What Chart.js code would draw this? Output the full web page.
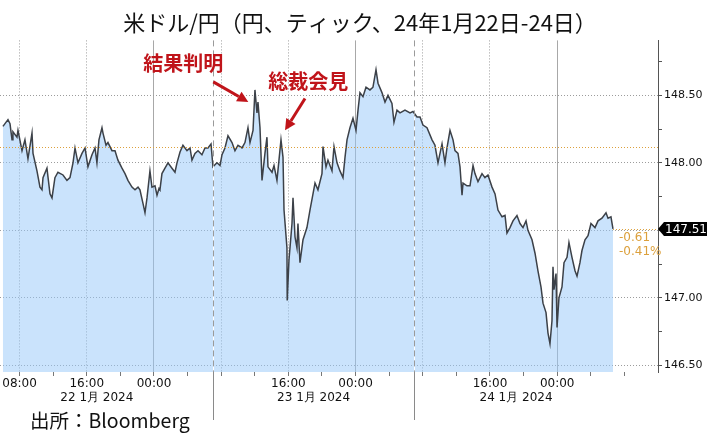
<!DOCTYPE html>
<html lang="ja">
<head>
<meta charset="UTF-8">
<title>米ドル/円（円、ティック、24年1月22日-24日）</title>
<script src="https://cdn.jsdelivr.net/npm/chart.js"></script>
<style>
  * { margin: 0; padding: 0; box-sizing: border-box; }
  body { background: #fff; width: 720px; height: 444px; overflow: hidden; }
  #wrap { position: relative; width: 720px; height: 444px; }
  #source {
    position: absolute; left: 30px; top: 408px;
    font-family: "Noto Sans CJK JP", sans-serif; font-size: 19.5px; line-height: 24px; color: #111;
  }
</style>
</head>
<body>
<div id="wrap">
  <canvas id="chart" width="720" height="444"></canvas>
  <div id="source">出所：Bloomberg</div>
</div>
<script>
// hours counted from 22 Jan 2024 00:00 (Tokyo)
const hours = [
  6.02, 6.62, 6.86, 7.10, 7.21, 7.69, 7.81, 8.29, 8.64, 9.00,
  9.48, 9.60, 10.07, 10.43, 10.67, 10.79, 11.26, 11.62, 11.86, 12.21,
  12.57, 13.17, 13.64, 14.00, 14.36, 14.60, 14.95, 15.43, 15.79, 16.14,
  16.62, 16.98, 17.21, 17.45, 17.81, 17.93, 18.29, 18.52, 19.00, 19.36,
  19.71, 20.19, 20.55, 20.90, 21.38, 21.74, 22.10, 22.33, 22.69, 22.93,
  23.17, 23.52, 23.76, 24.12, 24.36, 24.60, 24.71, 24.95, 25.31, 25.67,
  26.14, 26.50, 26.74, 27.10, 27.45, 27.93, 28.29, 28.52, 28.88, 29.24,
  29.71, 30.07, 30.43, 30.79, 31.02, 31.50, 31.86, 32.10, 32.45, 32.81,
  33.29, 33.64, 34.00, 34.48, 34.83, 35.19, 35.43, 35.79, 36.02, 36.26,
  36.38, 36.62, 36.86, 37.21, 37.45, 37.57, 38.05, 38.29, 38.64, 38.88,
  39.12, 39.36, 39.48, 39.83, 39.86, 40.07, 40.19, 40.43, 40.55, 40.79,
  41.02, 41.14, 41.38, 41.74, 42.21, 42.57, 42.93, 43.17, 43.52, 44.00,
  44.12, 44.48, 44.71, 45.19, 45.43, 45.79, 46.14, 46.50, 46.74, 46.98,
  47.33, 47.69, 48.05, 48.29, 48.52, 48.88, 49.24, 49.71, 50.07, 50.43,
  50.67, 51.14, 51.50, 51.86, 52.33, 52.57, 52.93, 53.29, 53.88, 54.48,
  54.83, 55.31, 55.67, 56.02, 56.50, 57.10, 57.45, 57.81, 58.29, 58.64,
  58.88, 59.24, 59.60, 59.83, 60.19, 60.43, 60.67, 60.79, 61.26, 61.62,
  61.98, 62.21, 62.57, 63.05, 63.40, 63.76, 64.24, 64.60, 64.95, 65.43,
  65.79, 66.02, 66.38, 66.74, 67.21, 67.57, 67.93, 68.29, 68.52, 69.00,
  69.36, 69.71, 70.07, 70.31, 70.67, 70.90, 71.14, 71.38, 71.50, 71.62,
  71.86, 71.98, 72.21, 72.57, 72.81, 73.17, 73.40, 73.76, 74.12, 74.36,
  74.71, 74.95, 75.31, 75.67, 76.02, 76.50, 76.86, 77.33, 77.81, 78.05,
  78.40, 78.64
];
const prices = [
  148.27, 148.32, 148.29, 148.17, 148.23, 148.19, 148.24, 148.09, 148.17, 148.03,
  148.22, 148.07, 147.94, 147.82, 147.80, 147.89, 147.96, 147.77, 147.74, 147.89,
  147.93, 147.91, 147.87, 147.89, 148.00, 148.11, 148.00, 148.07, 148.11, 147.97,
  148.06, 148.11, 148.00, 148.17, 148.26, 148.22, 148.13, 148.15, 148.09, 148.09,
  148.02, 147.96, 147.92, 147.87, 147.82, 147.80, 147.82, 147.80, 147.70, 147.63,
  147.74, 147.94, 147.82, 147.83, 147.76, 147.81, 147.80, 147.92, 147.96, 148.00,
  147.96, 147.93, 148.00, 148.08, 148.13, 148.09, 148.11, 148.02, 148.07, 148.09,
  148.06, 148.11, 148.11, 148.14, 147.97, 148.00, 147.98, 148.06, 148.11, 148.20,
  148.15, 148.09, 148.13, 148.11, 148.15, 148.26, 148.15, 148.24, 148.54, 148.37,
  148.45, 148.26, 147.87, 148.07, 148.19, 147.97, 147.93, 147.98, 147.87, 148.02,
  148.17, 148.04, 147.65, 147.37, 146.98, 147.28, 147.37, 147.55, 147.74, 147.45,
  147.37, 147.55, 147.26, 147.43, 147.52, 147.65, 147.77, 147.85, 147.80, 147.92,
  148.12, 147.97, 148.02, 147.94, 148.12, 148.00, 147.94, 147.89, 148.04, 148.17,
  148.26, 148.33, 148.24, 148.39, 148.52, 148.49, 148.56, 148.54, 148.56, 148.69,
  148.59, 148.52, 148.45, 148.50, 148.44, 148.30, 148.39, 148.37, 148.39, 148.37,
  148.38, 148.34, 148.34, 148.28, 148.26, 148.17, 148.13, 148.00, 148.14, 148.00,
  148.11, 148.24, 148.17, 148.09, 148.07, 147.97, 147.76, 147.85, 147.83, 147.83,
  147.98, 147.92, 147.86, 147.92, 147.89, 147.91, 147.82, 147.77, 147.65, 147.60,
  147.61, 147.48, 147.52, 147.57, 147.61, 147.55, 147.52, 147.57, 147.50, 147.43,
  147.33, 147.20, 147.08, 146.96, 146.89, 146.74, 146.66, 146.83, 147.23, 147.06,
  147.18, 146.78, 147.00, 147.08, 147.26, 147.30, 147.41, 147.30, 147.20, 147.16,
  147.26, 147.35, 147.43, 147.46, 147.55, 147.52, 147.57, 147.59, 147.63, 147.59,
  147.60, 147.51
];
const prevClose = 148.12;

const minorTicks = [8, 12, 16, 20, 24, 28, 32, 36, 40, 44, 48, 52, 56, 60, 64, 68, 72, 76, 80];
const timeTickValues = [8, 16, 24, 40, 48, 64, 72];
const timeTickLabels = ['08:00', '16:00', '00:00', '16:00', '00:00', '16:00', '00:00'];
const gridHours = [8, 16, 32, 40, 56, 64];
const midnights = [24, 48, 72];
const sessionBreaks = [31, 55];
const dayTickValues = [17.2, 43, 67.1];
const dayLabels = ['22 1月 2024', '23 1月 2024', '24 1月 2024'];
const yTickValues = [146.5, 146.75, 147, 147.25, 147.5, 147.75, 148, 148.25, 148.5, 148.75];
const yGridValues = [146.5, 147, 147.5, 148, 148.5];
const yLabelValues = [146.5, 147, 148, 148.5];

const callouts = [
  { text: '結果判明', th: 27.49, tv: 148.735, fromH: 31.06, fromV: 148.60, toH: 35.23, toV: 148.45 },
  { text: '総裁会見', th: 42.37, tv: 148.60, fromH: 41.98, fromV: 148.476, toH: 39.60, toV: 148.241 }
];

const orange = '#dca03c';
const calloutRed = '#c0141a';
const xFont = { family: 'DejaVu Sans', size: 12 };
const yFont = { family: 'DejaVu Sans', size: 11 };

function arrow(ctx, x1, y1, x2, y2) {
  const ang = Math.atan2(y2 - y1, x2 - x1);
  const head = 11, half = 5.5;
  const bx = x2 - head * Math.cos(ang), by = y2 - head * Math.sin(ang);
  ctx.beginPath();
  ctx.moveTo(x1, y1);
  ctx.lineTo(bx, by);
  ctx.stroke();
  ctx.beginPath();
  ctx.moveTo(x2, y2);
  ctx.lineTo(bx + half * Math.sin(ang), by - half * Math.cos(ang));
  ctx.lineTo(bx - half * Math.sin(ang), by + half * Math.cos(ang));
  ctx.closePath();
  ctx.fill();
}

const decorations = {
  id: 'decorations',
  afterDatasetsDraw(chart) {
    const { ctx, chartArea: a, scales: { x, y } } = chart;
    ctx.save();

    // session separators
    sessionBreaks.forEach(h => {
      const px = Math.round(x.getPixelForValue(h)) + 0.5;
      ctx.lineWidth = 1;
      ctx.setLineDash([]);
      ctx.strokeStyle = '#ffffff';
      ctx.beginPath(); ctx.moveTo(px, a.top); ctx.lineTo(px, a.bottom); ctx.stroke();
      ctx.strokeStyle = '#9a9a9a';
      ctx.setLineDash([6, 4]);
      ctx.beginPath(); ctx.moveTo(px, a.top); ctx.lineTo(px, a.bottom); ctx.stroke();
      ctx.setLineDash([]);
      ctx.strokeStyle = '#8a8a8a';
      ctx.beginPath(); ctx.moveTo(px, a.bottom); ctx.lineTo(px, a.bottom + 48); ctx.stroke();
    });

    // previous close line
    const yc = Math.round(y.getPixelForValue(prevClose)) + 0.5;
    ctx.strokeStyle = orange;
    ctx.setLineDash([1, 2]);
    ctx.beginPath(); ctx.moveTo(a.left, yc); ctx.lineTo(a.right, yc); ctx.stroke();

    // last price guide
    const last = prices[prices.length - 1];
    const yl = Math.round(y.getPixelForValue(last)) + 0.5;
    ctx.beginPath(); ctx.moveTo(x.getPixelForValue(hours[hours.length - 1]), yl); ctx.lineTo(a.right, yl); ctx.stroke();
    ctx.setLineDash([]);

    // change labels
    const diff = last - prevClose;
    ctx.fillStyle = orange;
    ctx.font = '12px "DejaVu Sans"';
    ctx.textAlign = 'left';
    ctx.textBaseline = 'middle';
    const lx = x.getPixelForValue(hours[hours.length - 1]) + 6;
    ctx.fillText(diff.toFixed(2), lx, yl + 8);
    ctx.fillText((diff / prevClose * 100).toFixed(2) + '%', lx, yl + 22);

    // callouts
    ctx.fillStyle = calloutRed;
    ctx.strokeStyle = calloutRed;
    ctx.lineWidth = 3;
    ctx.font = 'bold 20px "Noto Sans CJK JP"';
    ctx.textAlign = 'center';
    callouts.forEach(c => {
      ctx.fillText(c.text, x.getPixelForValue(c.th), y.getPixelForValue(c.tv));
      arrow(ctx, x.getPixelForValue(c.fromH), y.getPixelForValue(c.fromV),
        x.getPixelForValue(c.toH), y.getPixelForValue(c.toV));
    });
    ctx.restore();
  },
  afterDraw(chart) {
    const { ctx, chartArea: a, scales: { y } } = chart;
    const last = prices[prices.length - 1];
    const yl = Math.round(y.getPixelForValue(last));
    ctx.save();
    ctx.fillStyle = '#000';
    ctx.beginPath();
    ctx.moveTo(a.right, yl);
    ctx.lineTo(a.right + 6, yl - 7);
    ctx.lineTo(a.right + 49, yl - 7);
    ctx.lineTo(a.right + 49, yl + 7);
    ctx.lineTo(a.right + 6, yl + 7);
    ctx.closePath();
    ctx.fill();
    ctx.fillStyle = '#fff';
    ctx.font = '12px "DejaVu Sans"';
    ctx.textAlign = 'left';
    ctx.textBaseline = 'middle';
    ctx.fillText(last.toFixed(2), a.right + 7, yl + 0.5);
    ctx.restore();
  }
};

new Chart(document.getElementById('chart'), {
  type: 'line',
  data: {
    datasets: [{
      data: hours.map((h, i) => ({ x: h, y: prices[i] })),
      borderColor: '#3c4148',
      borderWidth: 1.5,
      pointRadius: 0,
      tension: 0,
      fill: 'start',
      backgroundColor: 'rgba(150, 200, 250, 0.5)'
    }]
  },
  options: {
    responsive: false,
    animation: false,
    devicePixelRatio: 1,
    layout: { padding: { left: 0, right: 0, top: 0, bottom: 34 } },
    plugins: {
      legend: { display: false },
      tooltip: { enabled: false },
      title: {
        display: true,
        text: '米ドル/円（円、ティック、24年1月22日-24日）',
        color: '#111',
        font: { family: 'Noto Sans CJK JP', size: 22, weight: 'normal' },
        padding: { top: 9, bottom: 5 }
      }
    },
    scales: {
      x: {
        type: 'linear',
        min: 5.67,
        max: 84,
        position: 'bottom',
        afterBuildTicks: s => { s.ticks = minorTicks.map(v => ({ value: v })); },
        afterFit: s => { s.height = 18; },
        grid: {
          color: c => {
            if (!c.tick) return 'transparent';
            if (midnights.includes(c.tick.value)) return '#a8a8a8';
            return gridHours.includes(c.tick.value) ? '#9c9c9c' : 'transparent';
          },
          lineWidth: 1,
          tickLength: 4,
          tickColor: '#777'
        },
        border: {
          display: false,
          dash: c => (c.tick && midnights.includes(c.tick.value)) ? [] : [1, 2]
        },
        ticks: {
          autoSkip: false,
          maxRotation: 0,
          padding: 1,
          color: '#111',
          font: xFont,
          callback: v => {
            const i = timeTickValues.indexOf(v);
            return i >= 0 ? timeTickLabels[i] : '';
          }
        }
      },
      x2: {
        type: 'linear',
        min: 5.67,
        max: 84,
        position: 'bottom',
        afterBuildTicks: s => { s.ticks = dayTickValues.map(v => ({ value: v })); },
        afterFit: s => { s.height = 20; },
        grid: { display: false, drawTicks: false },
        border: { display: false },
        ticks: {
          autoSkip: false,
          maxRotation: 0,
          padding: 1,
          color: '#111',
          font: xFont,
          callback: (v, i) => dayLabels[i]
        }
      },
      y: {
        position: 'right',
        min: 146.45,
        max: 148.907,
        afterBuildTicks: s => { s.ticks = yTickValues.map(v => ({ value: v })); },
        afterFit: s => { s.width = 62; },
        grid: {
          color: c => (c.tick && yGridValues.includes(c.tick.value)) ? '#9c9c9c' : 'transparent',
          lineWidth: 1,
          tickLength: 4,
          tickColor: '#555'
        },
        border: { display: true, color: '#555', width: 1, dash: [1, 2] },
        ticks: {
          padding: 2,
          color: '#111',
          font: yFont,
          callback: v => yLabelValues.includes(v) ? v.toFixed(2) : ''
        }
      }
    }
  },
  plugins: [decorations]
});
</script>
</body>
</html>
